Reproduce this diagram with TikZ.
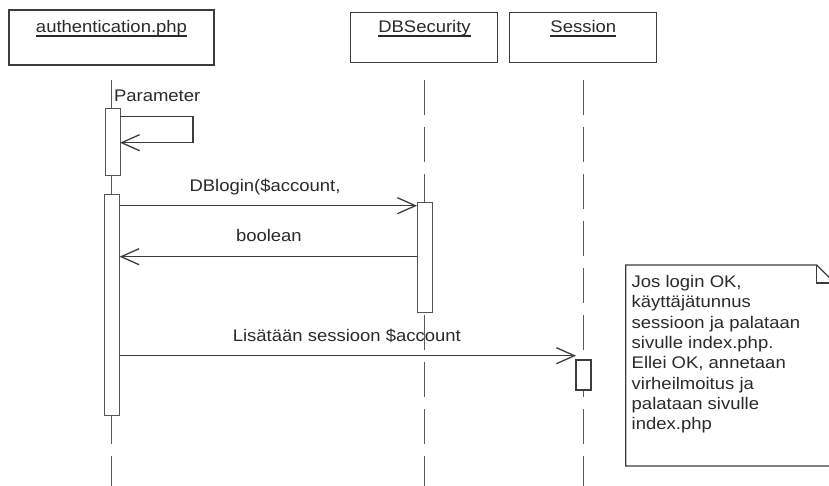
\documentclass[tikz,border=0pt]{standalone}
\usepackage{fontspec}
\setmainfont{Liberation Sans}[FakeStretch=1.1]
\usetikzlibrary{arrows.meta,calc}
\definecolor{ink}{HTML}{2A2A2A}
\definecolor{edge}{HTML}{3C3C3C}
\definecolor{actedge}{HTML}{555555}
\definecolor{life}{HTML}{5A5A5A}
\begin{document}
\begin{tikzpicture}[x=1pt,y=-1pt,
  every node/.style={inner sep=0pt,outer sep=0pt,text=ink,font=\fontsize{16.8}{18.3}\selectfont},
  objbox/.style={draw=edge,line width=1.2pt,fill=white,rectangle},
  actbox/.style={draw=actedge,line width=1pt,fill=white,rectangle,minimum width=15pt},
  lifeline/.style={draw=life,line width=0.9pt,dash pattern=on 35pt off 12pt},
  msg/.style={draw=edge,line width=1.3pt,-{Straight Barb[length=18pt,width=16pt,line width=1.3pt]}},
  lbl/.style={anchor=base west},
  hdr/.style={anchor=base}]
\clip (0,0) rectangle (829,486);
\useasboundingbox (0,0) rectangle (829,486);
\fill[white] (0,0) rectangle (829,486);

% object boxes
\node[objbox,line width=1.5pt,minimum width=205pt,minimum height=55pt] (authbox) at (111.5,37.5) {};
\node[objbox,minimum width=147pt,minimum height=50pt] (dbbox) at (424.2,37.7) {};
\node[objbox,minimum width=147pt,minimum height=50pt] (sessbox) at (583,37.7) {};
\node[hdr] (authtxt) at (111.5,33) {authentication.php};
\node[hdr] (dbtxt) at (424.5,33) {DBSecurity};
\node[hdr] (sesstxt) at (583.3,33) {Session};
\foreach \n in {authtxt,dbtxt,sesstxt}
  \draw[ink,line width=1.1pt] ($(\n.base west)+(0,3)$) -- ($(\n.base east)+(0,3)$);

% lifelines
\coordinate (authtop) at (111.7,80);
\coordinate (authbot) at (111.7,486);
\coordinate (dbtop) at (424.5,80);
\coordinate (dbbot) at (424.5,486);
\coordinate (sesstop) at (583,80);
\coordinate (sessbot) at (583,486);
\draw[lifeline] (authtop) -- (authbot);
\draw[lifeline] (dbtop) -- (dbbot);
\draw[lifeline] (sesstop) -- (sessbot);
\draw[draw=life,line width=0.9pt] (111.7,80) -- (111.7,109);
\draw[draw=life,line width=0.9pt] (111.7,176) -- (111.7,195);

% activations
\node[actbox,minimum height=67pt] (act1) at (112.5,142.5) {};
\node[actbox,minimum height=220pt] (act2) at (112,305) {};
\node[actbox,minimum height=109pt] (dbact) at (424.5,257.5) {};
\node[actbox,draw=edge,line width=1.2pt,minimum height=30pt] (sessact) at (583.5,375) {};

% self message
\node[lbl] (parlbl) at (114,101.7) {Parameter};
\coordinate (selfA) at (193,116.7);
\coordinate (selfB) at (193,142.7);
\draw[msg] (act1.east |- selfA) -- (selfA) -- (selfB) -- (act1.east |- selfB);

% DBlogin
\coordinate (m1) at (0,205.7);
\node[lbl] (dblbl) at (189.5,191.7) {DBlogin(\$account,};
\draw[msg] (act2.east |- m1) -- (dbact.west |- m1);

% boolean
\coordinate (m2) at (0,256.7);
\node[lbl] (boollbl) at (236,241.7) {boolean};
\draw[msg] (dbact.west |- m2) -- (act2.east |- m2);

% Lisataan
\coordinate (m3) at (0,355.7);
\node[lbl] (sesslbl) at (232.8,341.7) {Lisätään sessioon \$account};
\draw[msg] (act2.east |- m3) -- (sessact.west |- m3);

% note
\draw[draw=edge,line width=1.2pt,fill=white] (625.7,265) -- (816.7,265) -- (840,288.3) -- (840,466) -- (625.7,466) -- cycle;
\draw[draw=edge,line width=1.2pt] (816.7,265) -- (816.7,283) -- (836,283);
\node[anchor=north west,align=left,font=\fontsize{16.8}{20.3}\selectfont] (note) at (631.7,275.4) {Jos login OK,\\käyttäjätunnus\\sessioon ja palataan\\sivulle index.php.\\Ellei OK, annetaan\\virheilmoitus ja\\palataan sivulle\\index.php};
\end{tikzpicture}
\end{document}
